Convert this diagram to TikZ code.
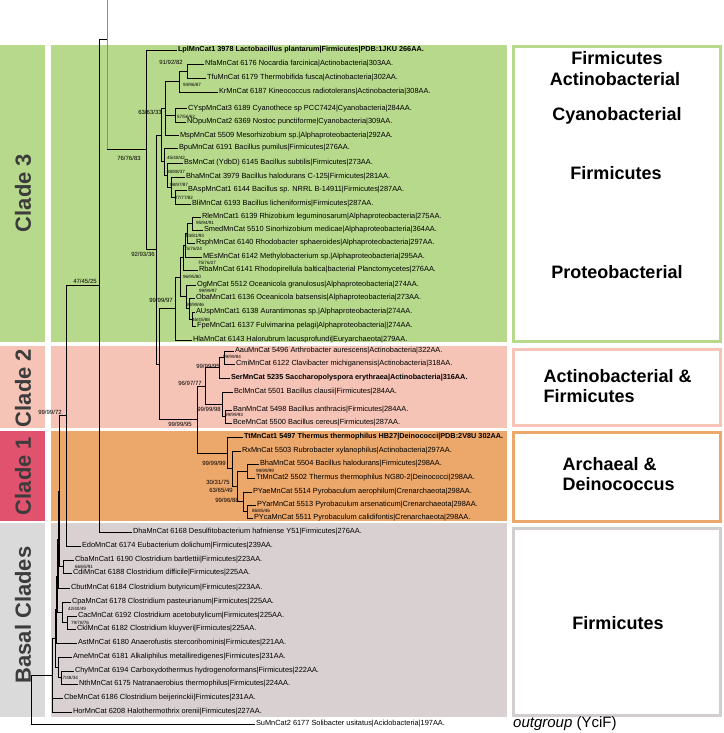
\documentclass[tikz,border=0pt]{standalone}
\usepackage{fontspec}
\setmainfont{Liberation Sans}
\definecolor{cgreen}{RGB}{183,217,140}
\definecolor{cpink}{RGB}{246,196,182}
\definecolor{corange}{RGB}{236,167,106}
\definecolor{cred}{RGB}{224,82,110}
\definecolor{cgrey}{RGB}{217,209,209}
\definecolor{cbar}{RGB}{218,218,218}
\definecolor{cboxgrey}{RGB}{211,206,206}
\definecolor{lblgrey}{RGB}{60,60,60}
\begin{document}
\begin{tikzpicture}[x=1pt,y=-1pt,
  leaf/.style={anchor=west, inner sep=0.8pt, font=\fontsize{7.4}{8.4}\selectfont},
  bleaf/.style={leaf, font=\fontsize{7.3}{8.4}\selectfont\bfseries},
  bs/.style={inner sep=0pt, font=\fontsize{6}{7}\selectfont},
  ss/.style={inner sep=0pt, font=\fontsize{4.6}{5}\selectfont},
  br/.style={line width=0.7pt, black},
  gbr/.style={line width=0.7pt, black!45},
  barlbl/.style={rotate=90, font=\fontsize{22}{24}\selectfont\bfseries, text=lblgrey},
  boxlbl/.style={font=\fontsize{18}{20}\selectfont\bfseries},
  rbox/.style={line width=2.6pt, fill=white}]
\useasboundingbox (0,0) rectangle (723,733);
% backgrounds
\fill[cgreen] (0,45) rectangle (45,342);
\fill[cgreen] (51,45) rectangle (507,342);
\fill[cpink] (0,346) rectangle (45,428);
\fill[cpink] (51,346) rectangle (507,428);
\fill[cred] (0,431) rectangle (45,521);
\fill[corange] (51,431) rectangle (507,521);
\fill[cbar] (0,523) rectangle (45,717);
\fill[cgrey] (51,523) rectangle (507,717);
% right boxes
\draw[rbox, draw=cgreen] (513.3,46.3) rectangle (720.7,341.7);
\draw[rbox, draw=cpink] (513.3,349.3) rectangle (720.7,425.7);
\draw[rbox, draw=corange] (513.3,432.3) rectangle (720.7,521.7);
\draw[rbox, draw=cboxgrey] (513.3,528.3) rectangle (720.7,715.7);
% bar labels
\node[barlbl] (L3lab) at (23,193) {Clade 3};
\node[barlbl] (L2lab) at (23,388) {Clade 2};
\node[barlbl] (L1lab) at (23,476) {Clade 1};
\node[barlbl] (L0lab) at (23,615) {Basal Clades};
% box labels
\node[boxlbl] (b1) at (617,58) {Firmicutes};
\node[boxlbl] (b2) at (615,79) {Actinobacterial};
\node[boxlbl] (b3) at (617,116) {Cyanobacterial};
\node[boxlbl] (b4) at (616,173) {Firmicutes};
\node[boxlbl] (b5) at (617,272) {Proteobacterial};
\node[boxlbl, anchor=west] (b6) at (540,376) {Actinobacterial \&};
\node[boxlbl, anchor=west] (b7) at (540,396) {Firmicutes};
\node[boxlbl, anchor=west] (b8) at (559,464) {Archaeal \&};
\node[boxlbl, anchor=west] (b9) at (559,484) {Deinococcus};
\node[boxlbl] (b10) at (618,623) {Firmicutes};
\node[anchor=west, inner sep=0pt, font=\fontsize{15}{17}\selectfont] (og) at (513,724) {\textit{outgroup} (YciF)};
% leaves
\node[bleaf] (Lpl) at (177,50) {LplMnCat1 3978 Lactobacillus plantarum|Firmicutes|PDB:1JKU 266AA.};
\node[leaf] (Nfa) at (204,64) {NfaMnCat 6176 Nocardia farcinica|Actinobacteria|303AA.};
\node[leaf] (Tfu) at (206,78) {TfuMnCat 6179 Thermobifida fusca|Actinobacteria|302AA.};
\node[leaf] (Kr) at (218,92) {KrMnCat 6187 Kineococcus radiotolerans|Actinobacteria|308AA.};
\node[leaf] (CYsp) at (187,108.5) {CYspMnCat3 6189 Cyanothece sp PCC7424|Cyanobacteria|284AA.};
\node[leaf] (NOpu) at (186,122) {NOpuMnCat2 6369 Nostoc punctiforme|Cyanobacteria|309AA.};
\node[leaf] (Msp) at (179,135.5) {MspMnCat 5509 Mesorhizobium sp.|Alphaproteobacteria|292AA.};
\node[leaf] (Bpu) at (178,148) {BpuMnCat 6191 Bacillus pumilus|Firmicutes|276AA.};
\node[leaf] (Bs) at (183,163) {BsMnCat (YdbD) 6145 Bacillus subtilis|Firmicutes|273AA.};
\node[leaf] (Bha) at (185,177) {BhaMnCat 3979 Bacillus halodurans C-125|Firmicutes|281AA.};
\node[leaf] (BAsp) at (187,190) {BAspMnCat1 6144 Bacillus sp. NRRL B-14911|Firmicutes|287AA.};
\node[leaf] (Bli) at (191,204) {BliMnCat 6193 Bacillus licheniformis|Firmicutes|287AA.};
\node[leaf] (Rle) at (201,217) {RleMnCat1 6139 Rhizobium leguminosarum|Alphaproteobacteria|275AA.};
\node[leaf] (Smed) at (203,230) {SmedMnCat 5510 Sinorhizobium medicae|Alphaproteobacteria|364AA.};
\node[leaf] (Rsph) at (195,243) {RsphMnCat 6140 Rhodobacter sphaeroides|Alphaproteobacteria|297AA.};
\node[leaf] (MEs) at (202,257) {MEsMnCat 6142 Methylobacterium sp.|Alphaproteobacteria|295AA.};
\node[leaf] (Rba) at (198,270) {RbaMnCat 6141 Rhodopirellula baltica|bacterial Planctomycetes|276AA.};
\node[leaf] (Og) at (196,285) {OgMnCat 5512 Oceanicola granulosus|Alphaproteobacteria|274AA.};
\node[leaf] (Oba) at (195,298) {ObaMnCat1 6136 Oceanicola batsensis|Alphaproteobacteria|273AA.};
\node[leaf] (AUsp) at (195,312) {AUspMnCat1 6138 Aurantimonas sp.|Alphaproteobacteria|274AA.};
\node[leaf] (Fpe) at (196,326) {FpeMnCat1 6137 Fulvimarina pelagi|Alphaproteobacteria||274AA.};
\node[leaf] (Hla) at (192,340) {HlaMnCat 6143 Halorubrum lacusprofundi|Euryarchaeota|279AA.};
\node[leaf] (Aau) at (234,351) {AauMnCat 5496 Arthrobacter aurescens|Actinobacteria|322AA.};
\node[leaf] (Cmi) at (235,364) {CmiMnCat 6122 Clavibacter michiganensis|Actinobacteria|318AA.};
\node[bleaf] (Ser) at (230,378) {SerMnCat 5235 Saccharopolyspora erythraea|Actinobacteria|316AA.};
\node[leaf] (Bcl) at (233,392) {BclMnCat 5501 Bacillus clausii|Firmicutes|284AA.};
\node[leaf] (Ban) at (232,410) {BanMnCat 5498 Bacillus anthracis|Firmicutes|284AA.};
\node[leaf] (Bce) at (232,423) {BceMnCat 5500 Bacillus cereus|Firmicutes|287AA.};
\node[bleaf] (Tt1) at (243,437) {TtMnCat1 5497 Thermus thermophilus HB27|Deinococci|PDB:2V8U 302AA.};
\node[leaf] (Rx) at (241,451) {RxMnCat 5503 Rubrobacter xylanophilus|Actinobacteria|297AA.};
\node[leaf] (Bha2) at (259,464) {BhaMnCat 5504 Bacillus halodurans|Firmicutes|298AA.};
\node[leaf] (Tt2) at (255,478) {TtMnCat2 5502 Thermus thermophilus NG80-2|Deinococci|298AA.};
\node[leaf] (PYae) at (252,492) {PYaeMnCat 5514 Pyrobaculum aerophilum|Crenarchaeota|298AA.};
\node[leaf] (PYar) at (256,505) {PYarMnCat 5513 Pyrobaculum arsenaticum|Crenarchaeota|298AA.};
\node[leaf] (PYca) at (253,518) {PYcaMnCat 5511 Pyrobaculum calidifontis|Crenarchaeota|298AA.};
\node[leaf] (Dha) at (132,532) {DhaMnCat 6168 Desulfitobacterium hafniense Y51|Firmicutes|276AA.};
\node[leaf] (Edo) at (81,546) {EdoMnCat 6174 Eubacterium dolichum|Firmicutes|239AA.};
\node[leaf] (Cba) at (74,560) {CbaMnCat1 6190 Clostridium bartlettii|Firmicutes|223AA.};
\node[leaf] (Cdi) at (72,573) {CdiMnCat 6188 Clostridium difficile|Firmicutes|225AA.};
\node[leaf] (Cbut) at (70,588) {CbutMnCat 6184 Clostridium butyricum|Firmicutes|223AA.};
\node[leaf] (Cpa) at (71,602) {CpaMnCat 6178 Clostridium pasteurianum|Firmicutes|225AA.};
\node[leaf] (Cac) at (77,616) {CacMnCat 6192 Clostridium acetobutylicum|Firmicutes|225AA.};
\node[leaf] (Ckl) at (76,629) {CklMnCat 6182 Clostridium kluyveri|Firmicutes|225AA.};
\node[leaf] (Ast) at (77,643) {AstMnCat 6180 Anaerofustis stercorihominis|Firmicutes|221AA.};
\node[leaf] (Ame) at (72,657) {AmeMnCat 6181 Alkaliphilus metalliredigenes|Firmicutes|231AA.};
\node[leaf] (Chy) at (74,671) {ChyMnCat 6194 Carboxydothermus hydrogenoformans|Firmicutes|222AA.};
\node[leaf] (Nth) at (78,684) {NthMnCat 6175 Natranaerobius thermophilus|Firmicutes|224AA.};
\node[leaf] (Cbe) at (63,698) {CbeMnCat 6186 Clostridium beijerinckii|Firmicutes|231AA.};
\node[leaf] (Hor) at (72,712) {HorMnCat 6208 Halothermothrix orenii|Firmicutes|227AA.};
\node[leaf] (Su) at (255,724) {SuMnCat2 6177 Solibacter usitatus|Acidobacteria|197AA.};
% internal nodes
\coordinate (c187) at (187,71);
\coordinate (nA) at (179,81.5);
\coordinate (nCy) at (175,115.25);
\coordinate (nB) at (165,108.5);
\coordinate (nb4) at (175,197);
\coordinate (nb3) at (171,187);
\coordinate (nb2) at (167,175);
\coordinate (nb1) at (164,161.5);
\coordinate (nX) at (161,135);
\coordinate (p1) at (192,223.5);
\coordinate (p2) at (187,233.25);
\coordinate (p3) at (185,245.1);
\coordinate (p4) at (183,257.6);
\coordinate (p5) at (192,319);
\coordinate (p6) at (189,308.5);
\coordinate (p7) at (186,296.75);
\coordinate (p8) at (180,277.2);
\coordinate (p9) at (175,308.6);
\coordinate (c1) at (224,357.5);
\coordinate (c2) at (219,367.75);
\coordinate (cb) at (225,416.5);
\coordinate (c3) at (222,404.25);
\coordinate (c4) at (205,386);
\coordinate (d1) at (247,471);
\coordinate (e1) at (247,511.5);
\coordinate (e2) at (243,501.75);
\coordinate (e3) at (237,486.4);
\coordinate (e4) at (232,468.7);
\coordinate (k1) at (227,452.85);
\coordinate (n197) at (197,419.4);
\coordinate (nY) at (159,364);
\coordinate (n158) at (156,249.5);
\coordinate (n146) at (146,149.7);
\coordinate (n107) at (107,39);
\coordinate (top107) at (107,0);
\coordinate (n99) at (99,285.5);
\coordinate (n66) at (66,415.75);
\coordinate (cC) at (63,566.5);
\coordinate (L1) at (59,491.1);
\coordinate (L2) at (58,539.6);
\coordinate (cc) at (67,622.5);
\coordinate (cp) at (62,612.25);
\coordinate (Lc3) at (57,575.9);
\coordinate (Lc4) at (56,609.5);
\coordinate (cn) at (61,677.5);
\coordinate (am) at (58,667.25);
\coordinate (L6) at (55,638.4);
\coordinate (L7) at (52,675);
\coordinate (root) at (31,699.5);
% branches to leaves
\foreach \p/\c in {n146/Lpl, c187/Nfa, c187/Tfu, nA/Kr, nCy/CYsp, nCy/NOpu, nB/Msp,
  nb4/BAsp, nb4/Bli, nb3/Bha, nb2/Bs, nb1/Bpu, p1/Rle, p1/Smed, p2/Rsph, p3/MEs, p4/Rba,
  p5/AUsp, p5/Fpe, p6/Oba, p7/Og, p9/Hla, c1/Aau, c1/Cmi, c2/Ser, cb/Ban, cb/Bce, c3/Bcl,
  d1/Bha2, d1/Tt2, e1/PYar, e1/PYca, e2/PYae, e4/Rx, k1/Tt1, n99/Dha, n66/Edo,
  cC/Cba, cC/Cdi, L2/Cbut, cc/Cac, cc/Ckl, cp/Cpa, Lc4/Ast, cn/Chy, cn/Nth, am/Ame,
  L7/Cbe, L7/Hor, root/Su}
  \draw[br] (\p) |- (\c.west);
% branches to internal nodes
\foreach \p/\c in {n146/n158, nA/c187, nB/nA, nB/nCy, nb3/nb4, nb2/nb3, nb1/nb2, nX/nB, nX/nb1,
  p2/p1, p3/p2, p4/p3, p6/p5, p7/p6, p8/p4, p8/p7, p9/p8, c2/c1, c3/cb, c4/c2, c4/c3,
  e2/e1, e3/d1, e3/e2, e4/e3, k1/e4, n197/c4, n197/k1, nY/p9, nY/n197, n158/nX, n158/nY,
  n99/n107, n66/n99, L1/n66, L1/cC, L2/L1, cp/cc, Lc3/L2, Lc3/cp, Lc4/Lc3, am/cn,
  L6/Lc4, L6/am, L7/L6, root/L7}
  \draw[br] (\p) |- (\c);
\draw[gbr] (top107) -- (n107 |- n146);
\draw[br] (n107 |- n146) -- (n146);
% support values (large)
\node[bs] (s1) at (171,62) {91/92/82};
\node[bs] (s2) at (150,112) {63/63/33};
\node[bs] (s3) at (129,158) {76/76/83};
\node[bs] (s4) at (143,254) {92/93/36};
\node[bs] (s5) at (161,300) {99/99/97};
\node[bs] (s6) at (85,281) {47/45/25};
\node[bs] (s7) at (208,366) {99/99/95};
\node[bs] (s8) at (190,383) {96/97/77};
\node[bs] (s9) at (209,409) {99/99/98};
\node[bs] (s10) at (180,424) {99/99/95};
\node[bs] (s11) at (50,412) {99/99/72};
\node[bs] (s12) at (214,463) {99/99/99};
\node[bs] (s13) at (218,482) {30/31/75};
\node[bs] (s14) at (221,490) {63/65/49};
\node[bs] (s15) at (227,500) {99/96/88};
% support values (small)
\node[ss] (t1) at (192,85) {94/96/87};
\node[ss] (t2) at (186,116.5) {57/56/62};
\node[ss] (t3) at (176,158) {45/48/42};
\node[ss] (t4) at (176,172) {88/88/37};
\node[ss] (t5) at (179,185) {98/97/87};
\node[ss] (t6) at (184,198) {77/77/82};
\node[ss] (t7) at (205,223) {95/94/91};
\node[ss] (t8) at (195,236) {83/81/93};
\node[ss] (t9) at (193,249) {75/76/24};
\node[ss] (t10) at (207,263) {75/76/27};
\node[ss] (t11) at (192,277) {96/95/80};
\node[ss] (t12) at (208,291) {99/99/97};
\node[ss] (t13) at (195,305) {98/99/46};
\node[ss] (t14) at (201,320) {46/45/88};
\node[ss] (t15) at (232,357) {99/99/84};
\node[ss] (t16) at (234,415) {99/99/93};
\node[ss] (t17) at (265,471) {99/99/99};
\node[ss] (t18) at (261,511) {86/85/46};
\node[ss] (t19) at (84,567) {66/65/91};
\node[ss] (t20) at (77,609) {42/40/49};
\node[ss] (t21) at (80,623) {79/78/76};
\node[ss] (t22) at (69,678) {47/48/34};
\end{tikzpicture}
\end{document}
